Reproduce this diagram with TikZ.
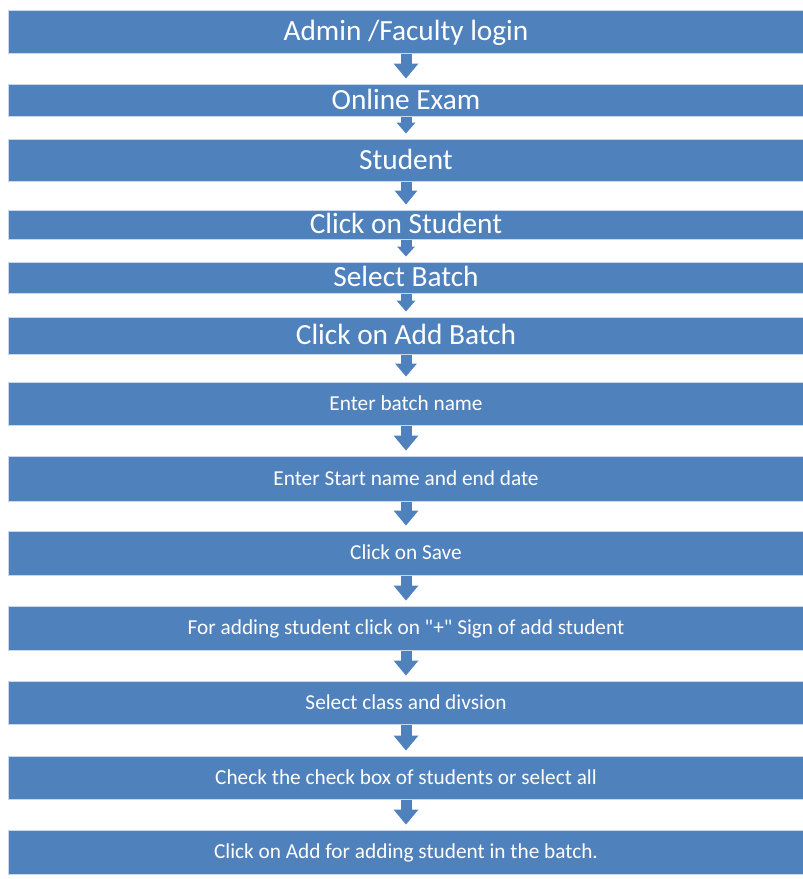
\documentclass[tikz,border=0pt]{standalone}
\usepackage{fontspec}
\setmainfont{Carlito}
\usepackage{tikz}
\usetikzlibrary{arrows.meta}
\definecolor{stepblue}{HTML}{4F81BD}
\definecolor{stepedge}{HTML}{C8D7EB}

\begin{document}
\begin{tikzpicture}[x=1pt, y=-1pt,
  stepbox/.style={draw=stepedge, line width=1pt, fill=stepblue, text=white, minimum width=795pt, inner sep=0pt, text depth=0pt},
  big/.style={font=\fontsize{29.3}{31}\selectfont, text height=18.5pt},
  small/.style={font=\fontsize{21.3}{24}\selectfont, text height=13.7pt},
  flow/.style 2 args={draw=stepblue, line width=11pt, -{Triangle[width=#1, length=#2, line width=0pt]}}
]
\useasboundingbox (0,0) rectangle (803,879);

\node[stepbox, big, minimum height=43pt] (login) at (406,31.5) {Admin /Faculty login};
\node[stepbox, big, minimum height=32pt] (exam) at (406,100) {Online Exam};
\node[stepbox, big, minimum height=42pt] (student) at (406,160) {Student};
\node[stepbox, big, minimum height=29pt] (clickstud) at (406,224.5) {Click on Student};
\node[stepbox, big, minimum height=31pt] (batch) at (406,277.5) {Select Batch};
\node[stepbox, big, minimum height=37pt] (addbatch) at (406,335.5) {Click on Add Batch};
\node[stepbox, small, minimum height=43pt] (bname) at (406,403.5) {Enter batch name};
\node[stepbox, small, minimum height=45pt] (dates) at (406,478.5) {Enter Start name and end date};
\node[stepbox, small, minimum height=44pt] (save) at (406,553) {Click on Save};
\node[stepbox, small, minimum height=44pt] (plus) at (406,628) {For adding student click on \textquotedbl+\textquotedbl\ Sign of add student};
\node[stepbox, small, minimum height=43pt] (classdiv) at (406,702.5) {Select class and divsion};
\node[stepbox, small, minimum height=43pt] (check) at (406,777.5) {Check the check box of students or select all};
\node[stepbox, small, minimum height=44pt] (addstud) at (406,852) {Click on Add for adding student in the batch.};

\draw[flow={25pt}{15pt}] (login.south) -- ([yshift=5pt]exam.north);
\draw[flow={19pt}{11pt}] (exam.south) -- ([yshift=5pt]student.north);
\draw[flow={23pt}{14pt}] (student.south) -- ([yshift=5pt]clickstud.north);
\draw[flow={18pt}{10pt}] (clickstud.south) -- ([yshift=5pt]batch.north);
\draw[flow={19pt}{11pt}] (batch.south) -- ([yshift=5pt]addbatch.north);
\draw[flow={22pt}{13pt}] (addbatch.south) -- ([yshift=5pt]bname.north);
\draw[flow={25pt}{15pt}] (bname.south) -- ([yshift=5pt]dates.north);
\draw[flow={25pt}{15pt}] (dates.south) -- ([yshift=5pt]save.north);
\draw[flow={25pt}{15pt}] (save.south) -- ([yshift=5pt]plus.north);
\draw[flow={25pt}{15pt}] (plus.south) -- ([yshift=5pt]classdiv.north);
\draw[flow={25pt}{15pt}] (classdiv.south) -- ([yshift=5pt]check.north);
\draw[flow={25pt}{15pt}] (check.south) -- ([yshift=5pt]addstud.north);
\end{tikzpicture}
\end{document}
